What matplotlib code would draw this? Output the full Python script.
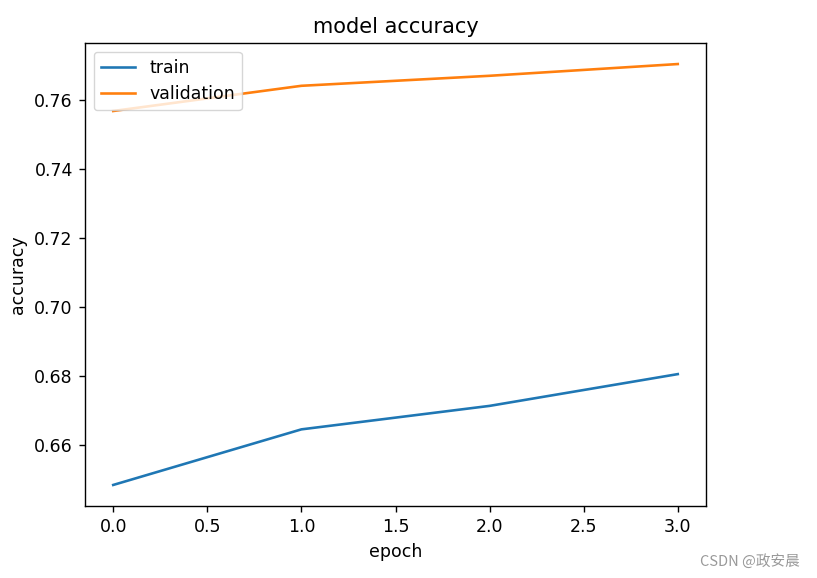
import matplotlib
matplotlib.use("Agg")
import matplotlib.pyplot as plt

epochs = [0, 1, 2, 3]
train_acc = [0.6485, 0.6646, 0.6714, 0.6806]
val_acc = [0.7568, 0.7641, 0.7670, 0.7704]

s = 1.25
plt.rcParams.update({
    "font.size": 10 * s,
    "axes.titlesize": 12 * s,
    "axes.labelsize": 10 * s,
    "xtick.labelsize": 10 * s,
    "ytick.labelsize": 10 * s,
    "legend.fontsize": 10 * s,
    "lines.linewidth": 1.5 * s,
    "axes.linewidth": 0.8 * s,
    "xtick.major.size": 3.5 * s,
    "ytick.major.size": 3.5 * s,
    "xtick.major.width": 0.8 * s,
    "ytick.major.width": 0.8 * s,
    "xtick.major.pad": 3.5 * s,
    "ytick.major.pad": 3.5 * s,
    "axes.titlepad": 6 * s,
    "axes.labelpad": 4 * s,
})

fig = plt.figure(figsize=(8.17, 5.78), dpi=100)
ax = fig.add_axes([85/817, 72/578, 621/817, 463/578])
ax.plot(epochs, train_acc, label="train")
ax.plot(epochs, val_acc, label="validation")
ax.set_title("model accuracy")
ax.set_xlabel("epoch")
ax.set_ylabel("accuracy")
ax.legend(loc="upper left")

fig.text(800/817, 1 - 561/578, "CSDN @政安晨", ha="right", va="center",
         fontsize=10.5, color="#999999",
         family=["Noto Sans CJK SC", "DejaVu Sans"])

fig.savefig("out.png", dpi=100)
